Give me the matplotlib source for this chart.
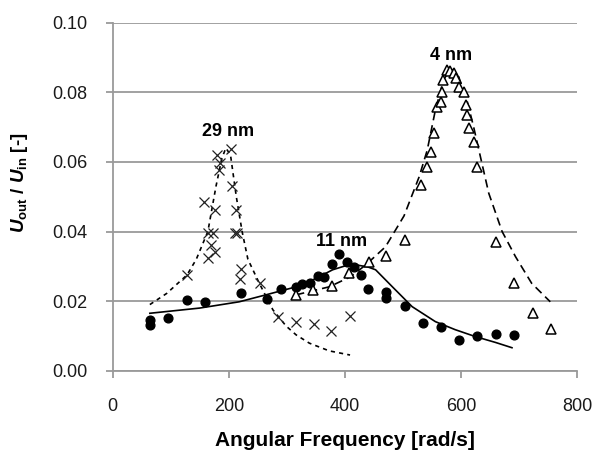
import matplotlib
matplotlib.use('Agg')
import matplotlib.pyplot as plt

plt.rcParams['font.family'] = ['Liberation Sans', 'DejaVu Sans']
plt.rcParams['mathtext.fontset'] = 'custom'
plt.rcParams['mathtext.it'] = 'Liberation Sans:italic:bold'
plt.rcParams['mathtext.rm'] = 'Liberation Sans:bold'

# 29 nm: measured points and fitted curve
x29 = [128, 158, 177, 164, 172, 170, 176, 164, 180, 185, 184, 203, 206, 212, 210, 214,
       221, 219, 253, 284, 316, 347, 376, 409]
y29 = [0.0275, 0.0486, 0.0462, 0.0395, 0.0395, 0.0361, 0.0342, 0.0323, 0.0620, 0.0596,
       0.0577, 0.0636, 0.0531, 0.0462, 0.0395, 0.0395, 0.0291, 0.0263, 0.0251, 0.0155,
       0.0141, 0.0134, 0.0115, 0.0158]
fx29 = [64, 93, 128, 144, 164, 178, 188, 195, 203, 213, 223, 233, 253, 276, 299, 316,
        339, 373, 409]
fy29 = [0.0190, 0.0222, 0.0275, 0.0320, 0.0400, 0.0530, 0.0610, 0.0640, 0.0620, 0.0500,
        0.0400, 0.0320, 0.0250, 0.0175, 0.0128, 0.0103, 0.0079, 0.0057, 0.0045]

# 11 nm
x11 = [64, 64, 96, 128, 159, 221, 266, 290, 315, 327, 340, 353, 364, 378, 390, 403, 416,
       427, 440, 471, 471, 503, 534, 566, 597, 628, 660, 691]
y11 = [0.0146, 0.0131, 0.0151, 0.0203, 0.0198, 0.0222, 0.0205, 0.0236, 0.0240, 0.0249,
       0.0251, 0.0272, 0.0268, 0.0306, 0.0334, 0.0313, 0.0299, 0.0275, 0.0235, 0.0227,
       0.0208, 0.0186, 0.0138, 0.0125, 0.0088, 0.0099, 0.0105, 0.0103]
fx11 = [64, 150, 218, 264, 316, 350, 379, 402, 420, 440, 453, 482, 516, 556, 590, 625,
        660, 688]
fy11 = [0.0165, 0.0180, 0.0198, 0.0218, 0.0241, 0.0265, 0.0290, 0.0302, 0.0304, 0.0298,
        0.0290, 0.0241, 0.0184, 0.0141, 0.0118, 0.0098, 0.0081, 0.0066]

# 4 nm
x4 = [316, 345, 378, 407, 441, 471, 503, 532, 542, 548, 553, 559, 565, 568, 570, 576,
      582, 588, 592, 596, 605, 609, 610, 614, 622, 628, 660, 692, 724, 755]
y4 = [0.0217, 0.0232, 0.0242, 0.0280, 0.0313, 0.0330, 0.0377, 0.0534, 0.0586, 0.0629,
      0.0682, 0.0759, 0.0773, 0.0800, 0.0835, 0.0864, 0.0860, 0.0855, 0.0840, 0.0816,
      0.0802, 0.0764, 0.0735, 0.0697, 0.0658, 0.0584, 0.0371, 0.0251, 0.0165, 0.0119]
fx4 = [316, 373, 410, 436, 470, 502, 528, 542, 556, 570, 582, 595, 610, 622, 631, 648,
       671, 694, 722, 754]
fy4 = [0.0218, 0.0241, 0.0270, 0.0304, 0.0356, 0.0445, 0.0557, 0.0634, 0.0749, 0.0835,
       0.0869, 0.0850, 0.0780, 0.0700, 0.0634, 0.0510, 0.0400, 0.0328, 0.0251, 0.0198]

labels = ['29 nm', '11 nm', '4 nm']
label_x = [198, 395, 583]
label_y = [0.0687, 0.0371, 0.0907]

fig, ax = plt.subplots(figsize=(5.95, 4.55), dpi=100)
fig.subplots_adjust(left=0.1894, right=0.9697, top=0.950, bottom=0.1853)

gray = '#9a9a9a'
ax.set_axisbelow(True)
ax.grid(axis='y', color=gray, linewidth=1.3)

ax.plot(fx29, fy29, color='k', linewidth=1.2, linestyle=(0, (2.5, 2.5)))
ax.plot(fx11, fy11, color='k', linewidth=1.2)
ax.plot(fx4, fy4, color='k', linewidth=1.2, linestyle=(0, (5, 3)))

ax.plot(x29, y29, linestyle='none', marker='x', markersize=7, color='#222222',
        markeredgewidth=0.9)
ax.plot(x11, y11, linestyle='none', marker='o', markersize=6.3, color='k')
ax.plot(x4, y4, linestyle='none', marker='^', markersize=6.5, markerfacecolor='white',
        markeredgecolor='k', markeredgewidth=1.1)

for t, lx, ly in zip(labels, label_x, label_y):
    ax.text(lx, ly, t, ha='center', va='center', fontsize=13, fontweight='bold')

ax.set_xlim(0, 800)
ax.set_ylim(0, 0.10)
ax.set_xticks([0, 200, 400, 600, 800])
ax.set_yticks([0, 0.02, 0.04, 0.06, 0.08, 0.10])
ax.yaxis.set_major_formatter(matplotlib.ticker.FormatStrFormatter('%.2f'))

for s in ['top', 'right']:
    ax.spines[s].set_visible(False)
for s in ['left', 'bottom']:
    ax.spines[s].set_color(gray)
    ax.spines[s].set_linewidth(1.3)
ax.tick_params(axis='x', direction='out', length=5, width=1.3, color=gray, pad=15,
               labelsize=13, labelcolor='#1a1a1a')
ax.tick_params(axis='y', direction='out', length=5, width=1.3, color=gray, pad=13,
               labelsize=13, labelcolor='#1a1a1a')

ax.set_xlabel('Angular Frequency [rad/s]', fontsize=15, fontweight='bold', labelpad=11)
ax.set_ylabel(r'$U_\mathrm{out}$ / $U_\mathrm{in}$ [-]', fontsize=13.5, fontweight='bold')
ax.yaxis.set_label_coords(-0.178, 0.54)

fig.savefig('out.png', dpi=100, facecolor='w')
